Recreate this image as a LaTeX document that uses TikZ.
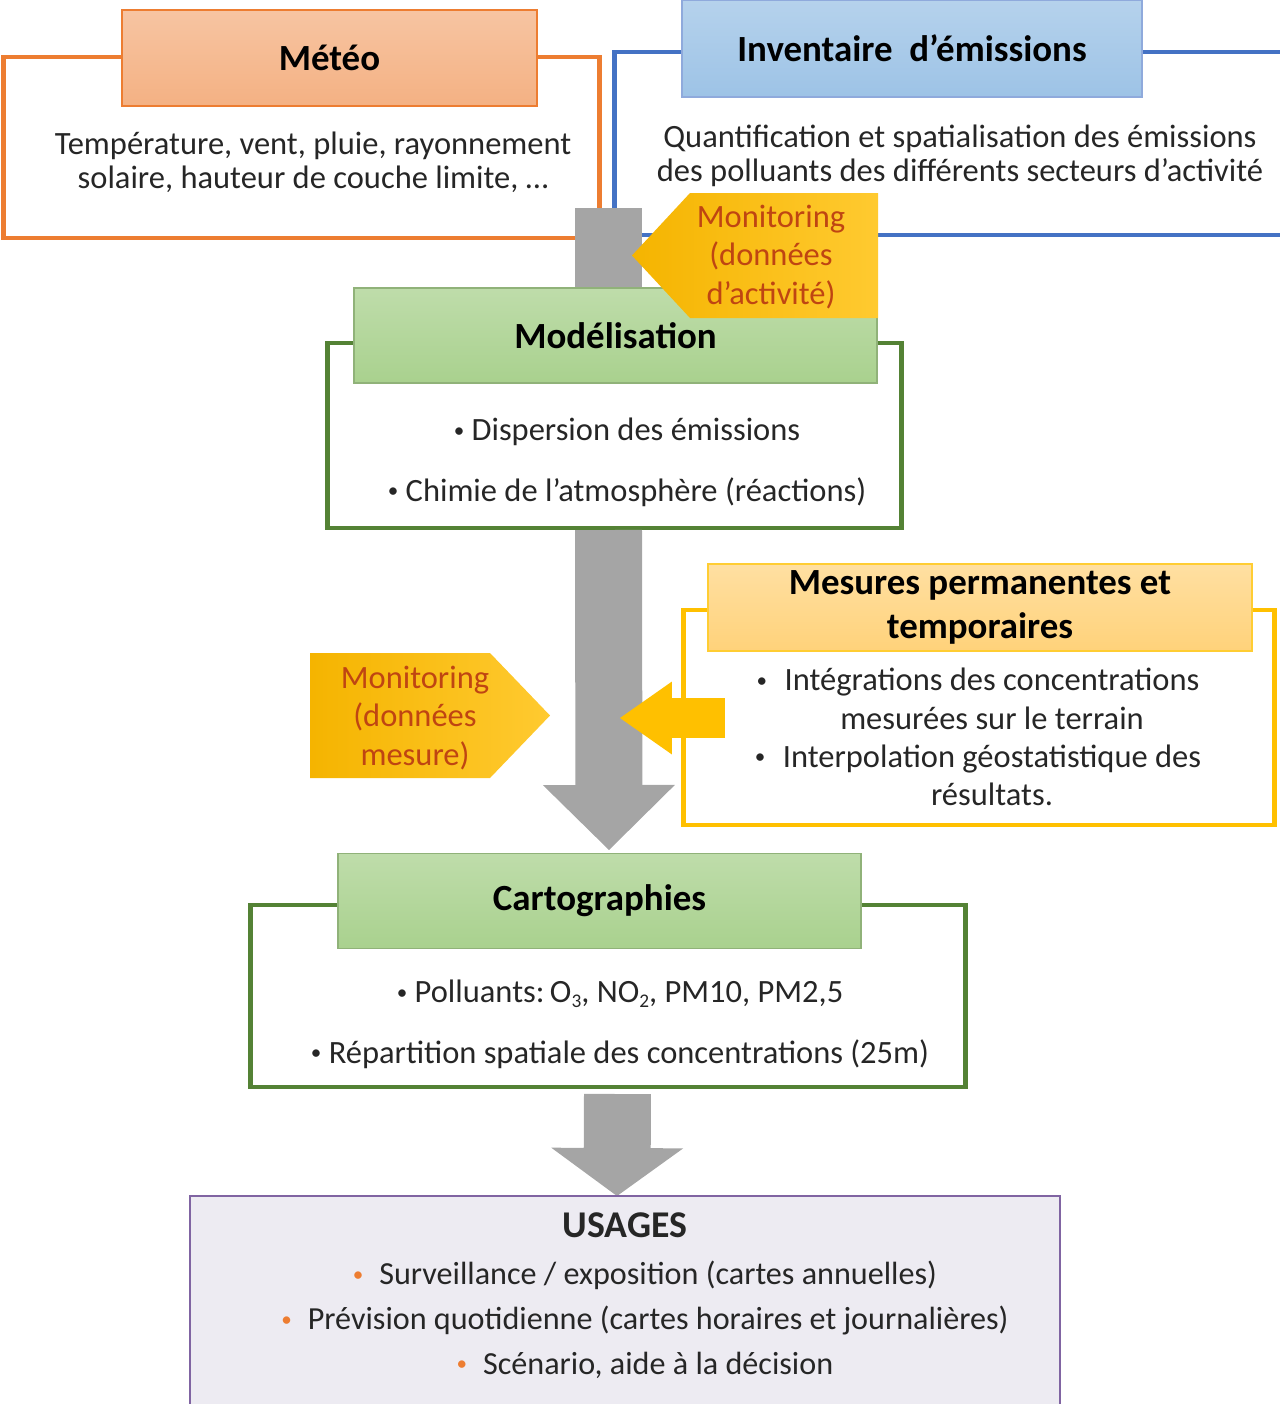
\documentclass[tikz,border=0pt]{standalone}
\usepackage{fontspec}
\setmainfont{Carlito}
\usetikzlibrary{arrows.meta}

\definecolor{meteoline}{HTML}{ED7D31}
\definecolor{meteofill}{HTML}{F4B183}
\definecolor{invline}{HTML}{4472C4}
\definecolor{invfill}{HTML}{9DC3E6}
\definecolor{modline}{HTML}{548235}
\definecolor{modfill}{HTML}{A9D18E}
\definecolor{mesline}{HTML}{FFC000}
\definecolor{mesfill}{HTML}{FFD27A}
\definecolor{flowgray}{HTML}{A5A5A5}
\definecolor{montxt}{HTML}{BF4512}
\definecolor{monleft}{HTML}{F5B400}
\definecolor{monright}{HTML}{FFCA30}
\definecolor{usefill}{HTML}{EDEBF2}
\definecolor{useline}{HTML}{8064A2}

\newcommand{\bodyfont}{\fontsize{18.5}{19.3}\selectfont}
\newcommand{\subnum}[1]{\raisebox{-0.3ex}{\fontsize{11}{11}\selectfont #1}}
\newcommand{\smallbul}{{\fontsize{12}{12}\selectfont\raisebox{0.35ex}{•}}}

\begin{document}
\begin{tikzpicture}[
    x=0.02cm, y=-0.02cm,
    frame/.style={draw=#1, line width=2.8pt, inner sep=0pt},
    header/.style 2 args={draw=#1, line width=0.8pt, top color=#2!75!white, bottom color=#2,
        align=center, inner sep=0pt, font=\fontsize{21}{25.5}\selectfont\bfseries},
    body/.style={align=center, inner sep=0pt, text=black!85, font=\bodyfont},
    montext/.style={align=center, inner sep=0pt, text=montxt, font=\fontsize{18.5}{21.7}\selectfont},
    bigarrow/.style={draw=flowgray, line width=1.34cm, -{Triangle[width=2.64cm, length=#1, line width=0pt]}},
    bigshaft/.style={draw=flowgray, line width=1.34cm},
    yelarrow/.style={draw=mesline, line width=0.8cm, -{Triangle[width=1.46cm, length=1.04cm, line width=0pt]}}
]
\useasboundingbox (0,0) rectangle (1280,1404);

% inputs
\node[frame=meteoline, minimum width=11.94cm, minimum height=3.62cm] (meteoframe) at (301.5,147.5) {};
\node[frame=invline, minimum width=13.72cm, minimum height=3.66cm] (invframe) at (957,143.5) {};
\node[header={meteoline}{meteofill}, minimum width=8.3cm, minimum height=1.92cm] (meteo) at (329.5,58) {Météo};
\node[header={invline!60}{invfill}, minimum width=9.2cm, minimum height=1.94cm] (inv) at (912,48.5) {Inventaire~~d’émissions};
\node[body] (meteotxt) at (313,162) {Température, vent, pluie, rayonnement\\solaire, hauteur de couche limite, …};
\node[body] (invtxt) at (960,156) {Quantification et spatialisation des émissions\\des polluants des différents secteurs d’activité};

\coordinate (flowtop) at (608.5,208);
\coordinate (flowmid) at (608.5,300);
\draw[bigshaft] (flowtop) -- (flowmid);

% modelisation
\node[frame=modline, minimum width=11.5cm, minimum height=3.7cm] (modframe) at (614.5,435.5) {};
\node[header={modfill!85!black}{modfill}, minimum width=10.46cm, minimum height=1.9cm] (mod) at (615.5,335.5) {Modélisation};
\node[body] (modtxta) at (627,432) {\smallbul\ Dispersion des émissions};
\node[body] (modtxtb) at (627,492) {\smallbul\ Chimie de l’atmosphère (réactions)};

\shade[left color=monleft, right color=monright] (878,193) -- (690,193) -- (632,255.5) -- (690,318) -- (878,318) -- cycle;
\node[montext] (monact) at (771,257) {Monitoring\\(données\\d’activité)};

% mesures
\coordinate (flowlow) at (608.5,530);
\coordinate (flowtip) at (609,850);
\draw[bigarrow=1.3cm] (flowlow) -- (flowtip);

\node[frame=mesline, minimum width=11.84cm, minimum height=4.3cm] (mesframe) at (979,717.5) {};
\node[draw=mesline!80!white, line width=0.8pt, top color=mesfill!70!white, bottom color=mesfill,
    align=center, inner sep=0pt, font=\fontsize{21}{25.5}\selectfont\bfseries,
    minimum width=10.88cm, minimum height=1.74cm] (mes) at (980,607.5) {Mesures permanentes et\\temporaires};
\node[body, font=\fontsize{18.5}{21.7}\selectfont] (mestxt) at (992,737)
    {\llap{\smallbul\hspace{10pt}}Intégrations des concentrations\\mesurées sur le terrain\\\llap{\smallbul\hspace{10pt}}Interpolation géostatistique des\\résultats.};
\coordinate (mesin) at (725,718);
\coordinate (mesout) at (620,718);
\draw[yelarrow] (mesin) -- (mesout);

\shade[left color=monleft, right color=monright] (310,653) -- (490,653) -- (550,715.5) -- (490,778) -- (310,778) -- cycle;
\node[montext] (monmes) at (415,718) {Monitoring\\(données\\mesure)};

% cartographies
\node[frame=modline, minimum width=14.32cm, minimum height=3.64cm] (cartframe) at (608,996) {};
\node[header={modfill!85!black}{modfill}, minimum width=10.46cm, minimum height=1.9cm] (cart) at (599.5,901) {Cartographies};
\node[body] (carttxta) at (620,994) {\smallbul\ Polluants:\,O\subnum{3}, NO\subnum{2}, PM10,~PM2,5};
\node[body] (carttxtb) at (620,1054) {\smallbul\ Répartition spatiale des concentrations (25m)};

\coordinate (cartlow) at (617.5,1094);
\coordinate (carttip) at (617,1196);
\draw[bigarrow=0.96cm] (cartlow) -- (carttip);

% usages
\node[draw=useline, line width=0.8pt, fill=usefill, minimum width=17.4cm, minimum height=4.6cm, inner sep=0pt] (useframe) at (625,1311) {};
\node[body, font=\fontsize{21.5}{22}\selectfont\bfseries] (usetitle) at (625,1225) {USAGES};
\node[body, font=\fontsize{18.3}{25.5}\selectfont] (usetxt) at (645,1320)
    {{\color{meteoline}\smallbul}\hspace{9pt}Surveillance / exposition (cartes annuelles)\\
     {\color{meteoline}\smallbul}\hspace{9pt}Prévision quotidienne (cartes horaires et journalières)\\
     {\color{meteoline}\smallbul}\hspace{9pt}Scénario, aide à la décision};
\end{tikzpicture}
\end{document}
